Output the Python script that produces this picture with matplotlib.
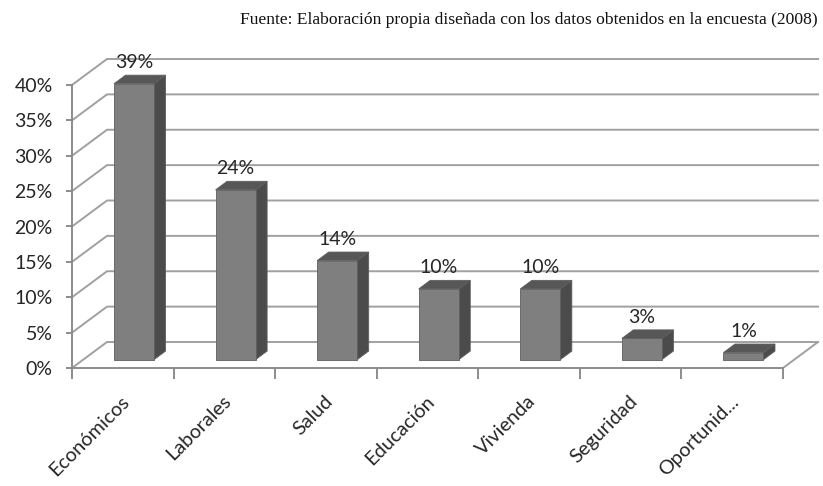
import matplotlib
matplotlib.use("Agg")
import matplotlib.pyplot as plt
import matplotlib.transforms as mtrans
from matplotlib.patches import Polygon

categories = ["Económicos", "Laborales", "Salud", "Educación", "Vivienda", "Seguridad", "Oportunid..."]
values = [39, 24, 14, 10, 10, 3, 1]
value_labels = ["39%", "24%", "14%", "10%", "10%", "3%", "1%"]
yticks = [0, 5, 10, 15, 20, 25, 30, 35, 40]
ytick_labels = ["0%", "5%", "10%", "15%", "20%", "25%", "30%", "35%", "40%"]
source = "Fuente: Elaboración propia diseñada con los datos obtenidos en la encuesta (2008)"

W, H = 823, 486
fig = plt.figure(figsize=(W / 100, H / 100), dpi=100)

# pixel geometry of the plot box
x0_px, x1_px = 72, 818
y0_px, ytop_px = 368, 59
ax = fig.add_axes([x0_px / W, (H - y0_px) / H, (x1_px - x0_px) / W, (y0_px - ytop_px) / H])

n = len(categories)
ymax = 40
DX = 35 / 101.57          # depth offset in category units
DY = 26 / 7.075           # depth offset in percent units
ax.set_xlim(0, n + DX)
ax.set_ylim(0, ymax + DY)

grid_c = "#a0a0a0"
axis_c = "#8c8c8c"
text_c = "#262626"

def P(x, y, d):
    return (x + d * DX, y + d * DY)

# walls: gridlines (side wall diagonal + back wall horizontal)
for v in yticks:
    xs = [0, DX, n + DX]
    ys = [v, v + DY, v + DY]
    ax.plot(xs, ys, color=grid_c, lw=1.4, clip_on=False, zorder=1)

# floor outline
ax.plot([n, n + DX], [0, DY], color=grid_c, lw=1.4, clip_on=False, zorder=1)

# bars
w = 0.394
d0, d1 = 0.32, 0.65
front_c = "#7f7f7f"
side_c = "#4b4b4b"
top_c = "#575757"
edge_c = "#5e5e5e"
for i, v in enumerate(values):
    cx = i + 0.5
    xl, xr = cx - w / 2, cx + w / 2
    base = 0
    front = [P(xl, base, d0), P(xr, base, d0), P(xr, v, d0), P(xl, v, d0)]
    side = [P(xr, base, d0), P(xr, base, d1), P(xr, v, d1), P(xr, v, d0)]
    top = [P(xl, v, d0), P(xr, v, d0), P(xr, v, d1), P(xl, v, d1)]
    for poly, c in ((side, side_c), (top, top_c), (front, front_c)):
        ax.add_patch(Polygon(poly, closed=True, facecolor=c, edgecolor=edge_c, lw=0.6, zorder=3))
    lx, ly = P(cx, v, d0)
    ax.text(lx, ly + 3.0, value_labels[i], ha="center", va="center",
            fontsize=14, family="Lato", color=text_c, zorder=4)

# axes spines
for s in ("top", "right"):
    ax.spines[s].set_visible(False)
ax.spines["left"].set_bounds(0, ymax)
ax.spines["bottom"].set_bounds(0, n)
ax.spines["left"].set_color(axis_c)
ax.spines["bottom"].set_color(axis_c)
ax.spines["left"].set_linewidth(1.4)
ax.spines["bottom"].set_linewidth(1.4)

ax.set_yticks(yticks)
ax.set_yticklabels(ytick_labels, fontsize=14, family="Lato", color=text_c)
ax.tick_params(axis="y", direction="out", length=4, width=1.4, color=axis_c, pad=10)

ax.set_xticks([i + 0.5 for i in range(n)])
ax.set_xticklabels(categories, rotation=45, ha="right", va="center",
                   rotation_mode="anchor", fontsize=14.3, family="Lato", color=text_c)
ax.set_xticks(list(range(n + 1)), minor=True)
ax.tick_params(axis="x", which="major", length=0, pad=22)
ax.tick_params(axis="x", which="minor", direction="out", length=8, width=1.4, color=axis_c)
off = mtrans.ScaledTranslation(4 / 100, 0, fig.dpi_scale_trans)
for lab in ax.get_xticklabels():
    lab.set_transform(lab.get_transform() + off)

fig.text(818 / W, 1 - 20 / H, source, ha="right", va="center",
         fontsize=12.6, family="Liberation Serif", color="#111111")

fig.savefig("out.png", dpi=100)
